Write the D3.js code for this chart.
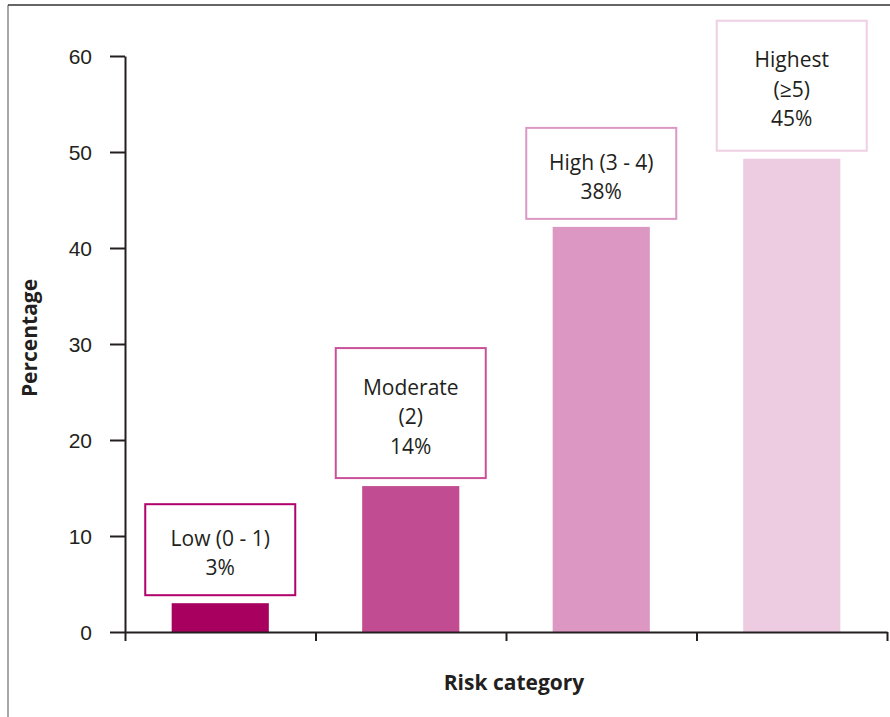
<!DOCTYPE html>
<html lang="en">
<head>
<meta charset="UTF-8">
<title>Risk category</title>
<script src="https://d3js.org/d3.v7.min.js"></script>
<style>
  body { margin: 0; background: #fff; }
  svg { display: block; font-family: "Open Sans", "Noto Sans", sans-serif; }
  .axis path, .axis line { stroke: #231f20; stroke-width: 2; }
  .axis text { font-size: 21px; fill: #231f20; }
</style>
</head>
<body>
<svg id="chart" width="890" height="717"></svg>
<script>
// chart data
const categories = ['Low', 'Moderate', 'High', 'Highest'];
const values = [3.0, 15.2, 42.2, 49.3];
const boxLines = [
  ['Low (0 - 1)', '3%'],
  ['Moderate', '(2)', '14%'],
  ['High (3 - 4)', '38%'],
  ['Highest', '(\u22655)', '45%']
];
const yTicks = [0, 10, 20, 30, 40, 50, 60];
const barColors = ['#a8005f', '#c24c92', '#dc98c2', '#edcce2'];
const boxColors = ['#b0026a', '#c9519a', '#dc98c5', '#efcfe4'];

const svg = d3.select('#chart');

// outer frame (left + top only)
svg.append('line').attr('x1', 8).attr('x2', 8).attr('y1', 5).attr('y2', 717)
  .attr('stroke', '#8a8a8a').attr('stroke-width', 1.5);
svg.append('line').attr('x1', 8).attr('x2', 890).attr('y1', 5).attr('y2', 5)
  .attr('stroke', '#333').attr('stroke-width', 1.5);

const plotLeft = 125, plotRight = 887, plotTop = 56, plotBottom = 632;

const x = d3.scaleBand().domain(categories).range([plotLeft, plotRight]).padding(0);
const xEdge = d3.scaleLinear().domain([0, categories.length]).range([plotLeft, plotRight]);
const y = d3.scaleLinear().domain([0, 60]).range([plotBottom, plotTop]);

const barW = x.bandwidth() * 0.51;
const boxW = 150;
const lineH = 29.5;

// bars
svg.selectAll('.bar')
  .data(values)
  .enter().append('rect')
  .attr('class', 'bar')
  .attr('x', (d, i) => x(categories[i]) + x.bandwidth() / 2 - barW / 2)
  .attr('y', d => y(d))
  .attr('width', barW)
  .attr('height', d => y(0) - y(d))
  .attr('fill', (d, i) => barColors[i]);

// label boxes above the bars
categories.forEach((c, i) => {
  const lines = boxLines[i];
  const h = 13 + lines.length * 39;
  const cx = x(c) + x.bandwidth() / 2;
  const by = y(values[i]) - 8 - h;
  svg.append('rect')
    .attr('x', cx - boxW / 2)
    .attr('y', by)
    .attr('width', boxW)
    .attr('height', h)
    .attr('fill', '#fff')
    .attr('stroke', boxColors[i])
    .attr('stroke-width', 2);
  const firstY = by + h / 2 - (lines.length - 1) * lineH / 2 + 11;
  lines.forEach((t, j) => {
    svg.append('text')
      .attr('x', cx)
      .attr('y', firstY + j * lineH)
      .attr('text-anchor', 'middle')
      .style('font-size', '21px')
      .style('fill', '#231f20')
      .text(t);
  });
});

// y axis
svg.append('g')
  .attr('class', 'axis')
  .attr('transform', `translate(${plotLeft},0)`)
  .call(d3.axisLeft(y).tickValues(yTicks).tickSize(15).tickSizeOuter(0).tickPadding(18))
  .selectAll('text').attr('dy', '0.35em');

// x axis, ticks at the category boundaries
svg.append('g')
  .attr('class', 'axis')
  .attr('transform', `translate(0,${plotBottom})`)
  .call(d3.axisBottom(xEdge).tickValues(d3.range(categories.length + 1)).tickSize(9).tickSizeOuter(0).tickFormat(''));

// axis titles
svg.append('text')
  .attr('transform', 'translate(37,338) rotate(-90)')
  .attr('text-anchor', 'middle')
  .style('font-size', '21px')
  .style('font-weight', 'bold')
  .style('fill', '#231f20')
  .text('Percentage');

svg.append('text')
  .attr('x', 514)
  .attr('y', 690)
  .attr('text-anchor', 'middle')
  .style('font-size', '21px')
  .style('font-weight', 'bold')
  .style('fill', '#231f20')
  .text('Risk category');
</script>
</body>
</html>
